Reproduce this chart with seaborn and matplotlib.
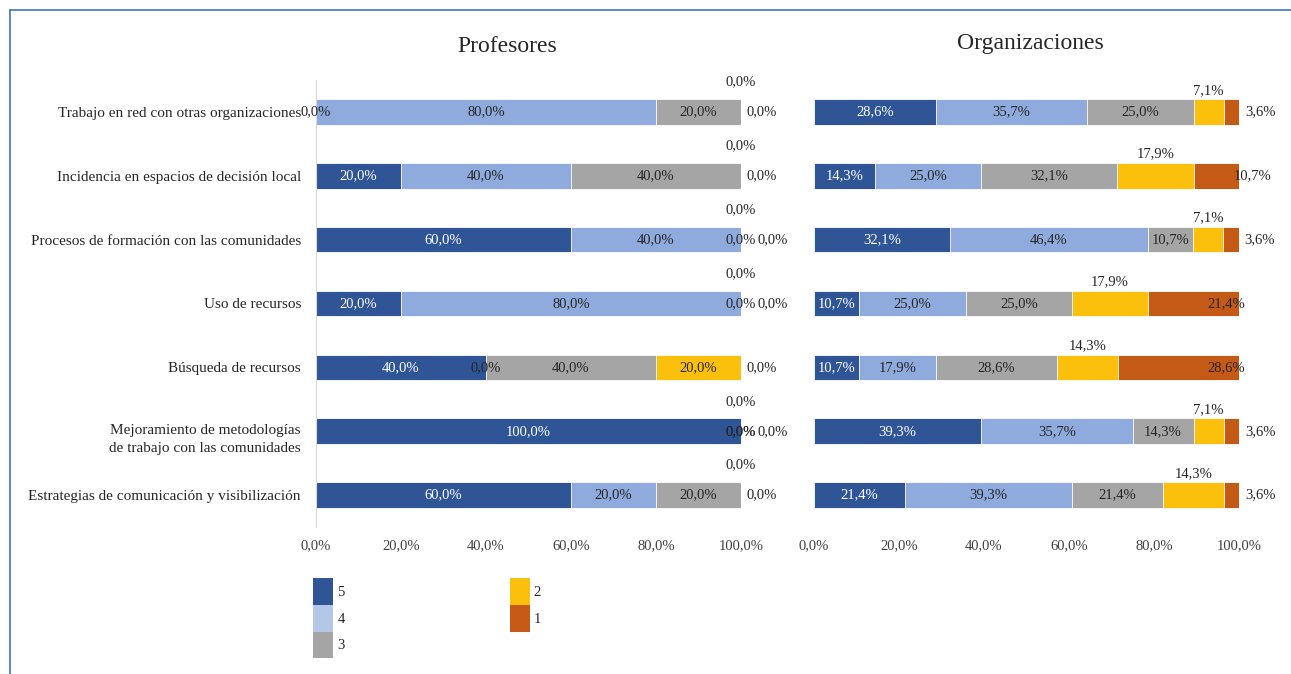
import numpy as np
import pandas as pd
import matplotlib
matplotlib.use("Agg")
import matplotlib.pyplot as plt
from matplotlib.patches import Patch
from matplotlib.lines import Line2D
import seaborn as sns

# categories (top to bottom)
categories = [
    "Trabajo en red con otras organizaciones",
    "Incidencia en espacios de decisión local",
    "Procesos de formación con las comunidades",
    "Uso de recursos",
    "Búsqueda de recursos",
    "Mejoramiento de metodologías\nde trabajo con las comunidades",
    "Estrategias de comunicación y visibilización",
]
levels = ["5", "4", "3", "2", "1"]

# Profesores (%), one list per level
prof_5 = [0.0, 20.0, 60.0, 20.0, 40.0, 100.0, 60.0]
prof_4 = [80.0, 40.0, 40.0, 80.0, 0.0, 0.0, 20.0]
prof_3 = [20.0, 40.0, 0.0, 0.0, 40.0, 0.0, 20.0]
prof_2 = [0.0, 0.0, 0.0, 0.0, 20.0, 0.0, 0.0]
prof_1 = [0.0, 0.0, 0.0, 0.0, 0.0, 0.0, 0.0]

# Organizaciones (%)
org_5 = [28.6, 14.3, 32.1, 10.7, 10.7, 39.3, 21.4]
org_4 = [35.7, 25.0, 46.4, 25.0, 17.9, 35.7, 39.3]
org_3 = [25.0, 32.1, 10.7, 25.0, 28.6, 14.3, 21.4]
org_2 = [7.1, 17.9, 7.1, 17.9, 14.3, 7.1, 14.3]
org_1 = [3.6, 10.7, 3.6, 21.4, 28.6, 3.6, 3.6]

colors = ["#2F5597", "#8FAADC", "#A5A5A5", "#FBC00B", "#C55A17"]
legend_colors = ["#2F5597", "#B4C7E7", "#A5A5A5", "#FBC00B", "#C55A17"]

sns.set_style("white")
plt.rcParams["font.family"] = ["Liberation Serif", "DejaVu Serif"]

TXT = "#262626"
LBL = 10.5


def fmt(v):
    return f"{v:.1f}%".replace(".", ",")


def draw_panel(ax, series, org):
    data = np.array(series)
    cum = np.cumsum(data, axis=0)
    # stacked bars: draw cumulative totals from the longest down
    for i in reversed(range(len(levels))):
        df = pd.DataFrame({"cat": categories, "val": cum[i]})
        sns.barplot(data=df, x="val", y="cat", orient="h", color=colors[i],
                    saturation=1, width=0.4, edgecolor="white", linewidth=0.6,
                    ax=ax)
    for i in range(len(levels)):
        for j in range(len(categories)):
            v = data[i, j]
            left = cum[i, j] - v
            mid = left + v / 2
            txt = fmt(v)
            if i == 0:
                ax.text(mid, j, txt, ha="center", va="center", fontsize=LBL,
                        color="white" if v > 0 else TXT)
            elif i in (1, 2):
                ax.text(mid, j, txt, ha="center", va="center", fontsize=LBL,
                        color=TXT)
            elif i == 3:
                if org:
                    ax.text(mid, j - 0.34, txt, ha="center", va="center",
                            fontsize=LBL, color=TXT)
                elif v > 0:
                    ax.text(mid, j, txt, ha="center", va="center",
                            fontsize=LBL, color=TXT)
                else:
                    ax.text(mid, j - 0.47, txt, ha="center", va="center",
                            fontsize=LBL, color=TXT)
            else:
                end = cum[i, j]
                if org:
                    if v < 5:
                        ax.text(end + 1.4, j, txt, ha="left", va="center",
                                fontsize=LBL, color=TXT)
                    elif v < 15:
                        ax.text(end - 1.2, j, txt, ha="left", va="center",
                                fontsize=LBL, color=TXT)
                    else:
                        ax.text(end + 1.4, j, txt, ha="right", va="center",
                                fontsize=LBL, color=TXT)
                else:
                    crowded = data[2, j] == 0 and data[3, j] == 0
                    ax.text(end + (3.8 if crowded else 1.4), j, txt,
                            ha="left", va="center", fontsize=LBL, color=TXT)
    ax.set_xlim(0, 100)
    ax.set_xticks([0, 20, 40, 60, 80, 100])
    ax.set_xticklabels([fmt(t) for t in [0, 20, 40, 60, 80, 100]],
                       fontsize=10.5, color="#404040")
    ax.set_xlabel("")
    ax.set_ylabel("")
    ax.tick_params(axis="x", length=0, pad=9)
    ax.tick_params(axis="y", length=0, pad=10.8)
    for s in ["top", "right", "bottom", "left"]:
        ax.spines[s].set_visible(False)


fig = plt.figure(figsize=(12.91, 6.74), dpi=100)
W, H = 1291, 674
ax1 = fig.add_axes([316 / W, 1 - 527 / H, 425 / W, 447 / H])
ax2 = fig.add_axes([814 / W, 1 - 527 / H, 425 / W, 447 / H])

draw_panel(ax1, [prof_5, prof_4, prof_3, prof_2, prof_1], org=False)
draw_panel(ax2, [org_5, org_4, org_3, org_2, org_1], org=True)

# single-line categories as tick labels, the two-line one drawn a bit lower
ax1.set_yticks(range(len(categories)))
ax1.set_yticklabels([c if "\n" not in c else "" for c in categories],
                    fontsize=11, color=TXT)
for j, c in enumerate(categories):
    if "\n" in c:
        ax1.text(-15 / 425, j - 0.12, c, transform=ax1.get_yaxis_transform(),
                 ha="right", va="top", fontsize=11, color=TXT,
                 multialignment="center", linespacing=1.5)
ax1.spines["left"].set_visible(True)
ax1.spines["left"].set_color("#D9D9D9")
ax2.set_yticks(range(len(categories)))
ax2.set_yticklabels([])

fig.text(507 / W, 1 - 47 / H, "Profesores", ha="center", va="center",
         fontsize=17, color=TXT)
fig.text(1030 / W, 1 - 43 / H, "Organizaciones", ha="center", va="center",
         fontsize=17, color=TXT)

handles = [Patch(facecolor=c, edgecolor="none") for c in legend_colors]
fig.legend(handles, levels, ncol=2, loc="upper left",
           bbox_to_anchor=(313 / W, 1 - 578 / H), frameon=False,
           fontsize=10.5, handlelength=1.37, handleheight=2.45,
           labelspacing=0, handletextpad=0.3, columnspacing=11.3,
           borderpad=0, borderaxespad=0)

# outer frame (top and left edges)
fig.add_artist(Line2D([10 / W, 1], [1 - 10 / H, 1 - 10 / H],
                      color="#4472C4", linewidth=1.2))
fig.add_artist(Line2D([10 / W, 10 / W], [0, 1 - 10 / H],
                      color="#4472C4", linewidth=1.2))

fig.savefig("out.png", dpi=100)
